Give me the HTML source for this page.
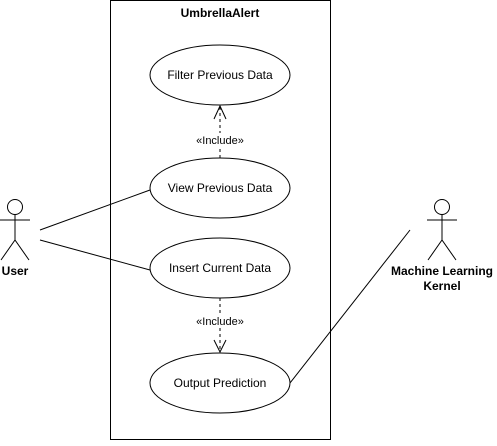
<!DOCTYPE html>
<html><head><style>body{margin:0;background:#fff}</style></head><body>
<svg width="497" height="441" xmlns="http://www.w3.org/2000/svg" font-family="Liberation Sans, Arial, sans-serif" font-size="12">
<rect x="110.5" y="0.5" width="220" height="439" fill="#fff" stroke="#000"/>
<text x="220" y="17" text-anchor="middle" font-weight="bold">UmbrellaAlert</text>
<g fill="#fff" stroke="#000">
<ellipse cx="220" cy="75" rx="70" ry="30"/>
<ellipse cx="220" cy="188" rx="70" ry="30"/>
<ellipse cx="220" cy="268" rx="70" ry="30"/>
<ellipse cx="220" cy="383" rx="70" ry="30"/>
</g>
<g text-anchor="middle">
<text x="220" y="79">Filter Previous Data</text>
<text x="220" y="192">View Previous Data</text>
<text x="220" y="272">Insert Current Data</text>
<text x="220" y="387">Output Prediction</text>
</g>
<g stroke="#000" fill="none">
<line x1="220" y1="158" x2="220" y2="106" stroke-dasharray="3,3"/>
<polyline points="214,119 220,106 226,119"/>
<line x1="220" y1="298" x2="220" y2="352" stroke-dasharray="3,3"/>
<polyline points="214,340 220,352 226,340"/>
<line x1="40" y1="230" x2="150" y2="190"/>
<line x1="40" y1="240" x2="150" y2="270"/>
<line x1="290" y1="383" x2="410" y2="230"/>
<circle cx="15" cy="207" r="7.5"/>
<line x1="15" y1="214.5" x2="15" y2="240"/>
<line x1="0" y1="220" x2="30" y2="220"/>
<polyline points="1,260 15,240 29,260"/>
<circle cx="442" cy="207" r="7.5"/>
<line x1="442" y1="214.5" x2="442" y2="240"/>
<line x1="427" y1="220" x2="457" y2="220"/>
<polyline points="428,260 442,240 456,260"/>
</g>
<rect x="190" y="133" width="60" height="14" fill="#fff"/>
<text x="220" y="144" text-anchor="middle" font-size="11">«Include»</text>
<rect x="190" y="314" width="60" height="14" fill="#fff"/>
<text x="220" y="325" text-anchor="middle" font-size="11">«Include»</text>
<g font-weight="bold" text-anchor="middle">
<text x="15" y="275">User</text>
<text x="442" y="275">Machine Learning</text>
<text x="442" y="290">Kernel</text>
</g>
</svg>
</body></html>
